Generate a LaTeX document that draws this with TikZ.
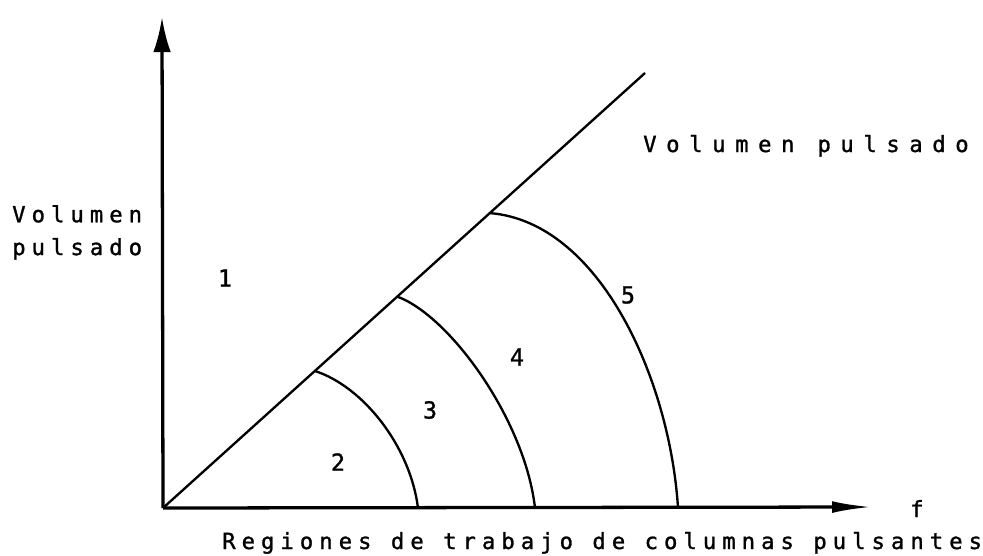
\documentclass[tikz,border=0pt]{standalone}
\usepackage{fontspec}
\newfontfamily\regfont[LetterSpace=27,FakeBold=1.2]{DejaVu Sans Mono}
\newfontfamily\widefont[LetterSpace=43,FakeBold=1.2]{DejaVu Sans Mono}
\usetikzlibrary{arrows.meta,calc}

\begin{document}
\begin{tikzpicture}[x=0.03cm, y=-0.03cm,
  axis/.style={line width=2.8pt},
  zone/.style={line width=2pt},
  lab/.style={inner sep=0pt, font=\regfont\fontsize{19}{28}\selectfont},
  num/.style={inner sep=0pt, font=\regfont\fontsize{20}{24}\selectfont}]
\useasboundingbox (0,0) rectangle (983,555);

% axes
\coordinate (O) at (163,508);
\coordinate (ytop) at (162,17);
\coordinate (xend) at (872,507);
\coordinate (dend) at (645,73);
\draw[axis, -{Latex[length=30pt,width=15pt]}] (O) -- (ytop);
\draw[axis, -{Latex[length=34pt,width=10pt]}] (O) -- (xend);
\draw[zone] (O) -- (dend);

% region limits
\coordinate (a2) at ($(O)!0.315!(dend)$);
\coordinate (a3) at ($(O)!0.486!(dend)$);
\coordinate (a5) at ($(O)!0.678!(dend)$);
\coordinate (b2) at (418,508);
\coordinate (b3) at (535,508);
\coordinate (b5) at (678,508);
\draw[zone] (a2) .. controls (362,386) and (410,445) .. (b2);
\draw[zone] (a3) .. controls (450,316) and (525,420) .. (b3);
\draw[zone] (a5) .. controls (600,222) and (670,380) .. (b5);

% labels
\node[num] (r1) at (225,278) {1};
\node[num] (r2) at (338,462) {2};
\node[num] (r3) at (430,410) {3};
\node[num] (r4) at (517,357) {4};
\node[num] (r5) at (628,295) {5};
\node[lab, anchor=base west] (fx) at (910,517) {f};
\node[lab, anchor=north west, align=left] (vy) at (12,205) {Volumen\\pulsado};
\node[lab, anchor=base west, font=\widefont\fontsize{19}{23}\selectfont] (vd) at (643,152) {Volumen pulsado};
\node[lab, anchor=base west] (title) at (222,549) {Regiones de trabajo de columnas pulsantes};
\end{tikzpicture}
\end{document}
